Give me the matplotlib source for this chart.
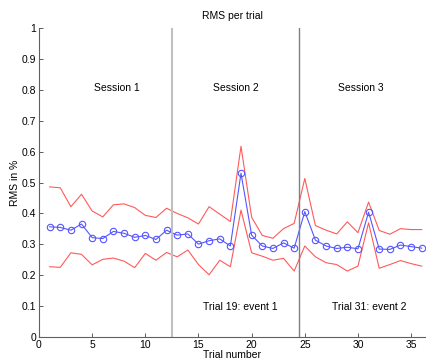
import matplotlib
matplotlib.use("Agg")
import matplotlib.pyplot as plt
import numpy as np

# data
trials = np.arange(1, 37)
rms_mean = [0.357, 0.355, 0.346, 0.366, 0.322, 0.319, 0.342, 0.336, 0.323, 0.329,
            0.316, 0.346, 0.330, 0.334, 0.301, 0.312, 0.318, 0.295, 0.530, 0.330,
            0.295, 0.287, 0.305, 0.288, 0.406, 0.314, 0.295, 0.287, 0.291, 0.286,
            0.404, 0.285, 0.284, 0.298, 0.293, 0.288]
rms_upper = [0.486, 0.483, 0.422, 0.462, 0.408, 0.389, 0.428, 0.431, 0.419, 0.394,
             0.387, 0.417, 0.400, 0.386, 0.366, 0.422, 0.398, 0.374, 0.617, 0.388,
             0.329, 0.320, 0.351, 0.368, 0.513, 0.361, 0.346, 0.334, 0.373, 0.338,
             0.437, 0.345, 0.333, 0.351, 0.348, 0.348]
rms_lower = [0.228, 0.226, 0.273, 0.268, 0.234, 0.252, 0.256, 0.246, 0.225, 0.271,
             0.249, 0.274, 0.260, 0.282, 0.235, 0.202, 0.249, 0.228, 0.411, 0.273,
             0.262, 0.249, 0.255, 0.214, 0.295, 0.260, 0.241, 0.235, 0.214, 0.230,
             0.370, 0.223, 0.235, 0.248, 0.238, 0.230]
session_breaks = [12.5, 24.5]
session_labels = ["Session 1", "Session 2", "Session 3"]
session_label_x = [7.3, 18.5, 30.3]
event_labels = ["Trial 19: event 1", "Trial 31: event 2"]
event_label_x = [18.9, 31.1]

plt.rcParams['font.family'] = ['Liberation Sans', 'DejaVu Sans']
plt.rcParams['font.size'] = 7.5

fig = plt.figure(figsize=(4.26, 3.6), dpi=100)
ax = fig.add_axes([0.0915, 0.063, 0.9085, 0.86])

ax.plot(trials, rms_upper, color='#ff5a5a', linewidth=0.8)
ax.plot(trials, rms_lower, color='#ff5a5a', linewidth=0.8)
ax.plot(trials, rms_mean, color='#5555ff', linewidth=0.8, marker='o',
        markersize=4.6, markerfacecolor='none', markeredgecolor='#5555ff',
        markeredgewidth=0.8)

ax.axvline(session_breaks[0], color='#c0c0c0', linewidth=1.5)
ax.axvline(session_breaks[1], color='#808080', linewidth=1)

for x, s in zip(session_label_x, session_labels):
    ax.text(x, 0.806, s, ha='center', va='center')
for x, s in zip(event_label_x, event_labels):
    ax.text(x, 0.097, s, ha='center', va='center')

ax.set_xlim(0, 36.4)
ax.set_ylim(0, 1)
ax.set_xticks(np.arange(0, 36, 5))
ax.set_yticks(np.arange(0, 1.01, 0.1))
ax.set_yticklabels(['0', '0.1', '0.2', '0.3', '0.4', '0.5', '0.6', '0.7', '0.8', '0.9', '1'])
ax.tick_params(direction='in', length=3, width=0.6, colors='#404040', labelcolor='black', pad=2)
for side in ['top', 'right']:
    ax.spines[side].set_visible(False)
for side in ['left', 'bottom']:
    ax.spines[side].set_color('#606060')
    ax.spines[side].set_linewidth(0.8)

ax.set_title("RMS per trial", fontsize=7.5, pad=6)
ax.set_xlabel("Trial number", labelpad=0)
ax.set_ylabel("RMS in %", labelpad=1)

fig.savefig("out.png", dpi=100)
